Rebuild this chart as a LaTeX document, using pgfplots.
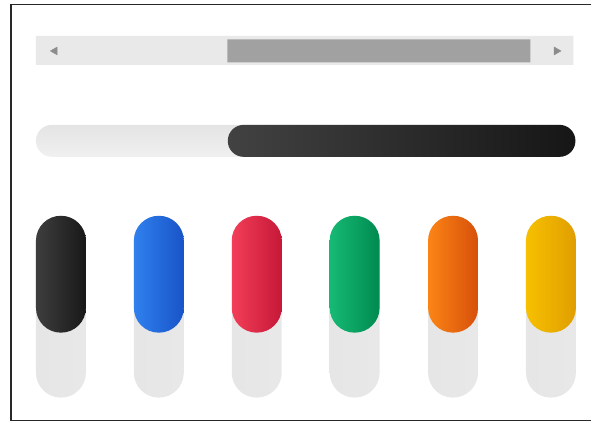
\documentclass[border=0pt]{standalone}
\usepackage{pgfplots}
\pgfplotsset{compat=1.18}
\definecolor{frame}{RGB}{40,40,40}
\definecolor{trackbg}{RGB}{233,233,233}
\definecolor{thumb}{RGB}{161,161,161}
\definecolor{arrow}{RGB}{140,140,140}
\definecolor{gL}{RGB}{230,230,230}
\definecolor{gM}{RGB}{248,248,248}
\definecolor{gR}{RGB}{232,232,232}
\definecolor{sT}{RGB}{228,228,228}
\definecolor{sM}{RGB}{245,245,245}
\definecolor{sB}{RGB}{240,240,240}
\definecolor{dL}{RGB}{66,66,66}
\definecolor{dR}{RGB}{22,22,22}
\definecolor{kL}{RGB}{62,62,62}
\definecolor{kR}{RGB}{24,24,24}
\definecolor{bL}{RGB}{48,128,238}
\definecolor{bR}{RGB}{24,84,200}
\definecolor{rL}{RGB}{242,62,88}
\definecolor{rR}{RGB}{198,24,56}
\definecolor{nL}{RGB}{22,186,116}
\definecolor{nR}{RGB}{0,138,80}
\definecolor{oL}{RGB}{252,132,22}
\definecolor{oR}{RGB}{214,80,10}
\definecolor{yL}{RGB}{246,192,0}
\definecolor{yR}{RGB}{224,158,0}
\begin{document}
\begin{tikzpicture}
\begin{axis}[
  scale only axis, width=592bp, height=423bp,
  xmin=0, xmax=592, ymin=0, ymax=423, y dir=reverse,
  axis lines=box, axis line style={draw=none}, ticks=none,
  clip=false,
]
% outer frame (open on the right)
\addplot[frame, line width=1.2bp, mark=none] coordinates {(592,4.5) (11,4.5) (11,421) (592,421)};
% scrollbar track and thumb
\addplot[draw=none, fill=trackbg] coordinates {(36,36) (574,36) (574,65) (36,65) (36,36)};
\addplot[draw=none, fill=thumb] coordinates {(227.5,39.5) (531,39.5) (531,62.5) (227.5,62.5) (227.5,39.5)};
% scrollbar arrows
\addplot[only marks, mark=triangle*, mark size=4.6pt, color=arrow, mark options={rotate=90}] coordinates {(55,51)};
\addplot[only marks, mark=triangle*, mark size=4.6pt, color=arrow, mark options={rotate=-90}] coordinates {(557,51)};
% horizontal slider
\addplot[draw=none, rounded corners=15.9bp, top color=sT, middle color=sM, bottom color=sB] coordinates {(306,125) (576,125) (576,157) (36,157) (36,125) (306,125)};
\addplot[draw=none, rounded corners=15.9bp, left color=dL, right color=dR] coordinates {(402,125) (576,125) (576,157) (228,157) (228,125) (402,125)};
% vertical sliders: grey tracks
\addplot[draw=none, rounded corners=24.9bp, left color=gL, middle color=gM, right color=gR] coordinates {(36,307) (36,216) (86,216) (86,398) (36,398) (36,307)};
\addplot[draw=none, rounded corners=24.9bp, left color=gL, middle color=gM, right color=gR] coordinates {(134,307) (134,216) (184,216) (184,398) (134,398) (134,307)};
\addplot[draw=none, rounded corners=24.9bp, left color=gL, middle color=gM, right color=gR] coordinates {(232,307) (232,216) (282,216) (282,398) (232,398) (232,307)};
\addplot[draw=none, rounded corners=24.9bp, left color=gL, middle color=gM, right color=gR] coordinates {(330,307) (330,216) (380,216) (380,398) (330,398) (330,307)};
\addplot[draw=none, rounded corners=24.9bp, left color=gL, middle color=gM, right color=gR] coordinates {(428.5,307) (428.5,216) (478.5,216) (478.5,398) (428.5,398) (428.5,307)};
\addplot[draw=none, rounded corners=24.9bp, left color=gL, middle color=gM, right color=gR] coordinates {(526.5,307) (526.5,216) (576.5,216) (576.5,398) (526.5,398) (526.5,307)};
% vertical sliders: coloured levels
\addplot[draw=none, rounded corners=24.9bp, left color=kL, right color=kR] coordinates {(36,274.5) (36,216) (86,216) (86,333) (36,333) (36,274.5)};
\addplot[draw=none, rounded corners=24.9bp, left color=bL, right color=bR] coordinates {(134,274.5) (134,216) (184,216) (184,333) (134,333) (134,274.5)};
\addplot[draw=none, rounded corners=24.9bp, left color=rL, right color=rR] coordinates {(232,274.5) (232,216) (282,216) (282,333) (232,333) (232,274.5)};
\addplot[draw=none, rounded corners=24.9bp, left color=nL, right color=nR] coordinates {(330,274.5) (330,216) (380,216) (380,333) (330,333) (330,274.5)};
\addplot[draw=none, rounded corners=24.9bp, left color=oL, right color=oR] coordinates {(428.5,274.5) (428.5,216) (478.5,216) (478.5,333) (428.5,333) (428.5,274.5)};
\addplot[draw=none, rounded corners=24.9bp, left color=yL, right color=yR] coordinates {(526.5,274.5) (526.5,216) (576.5,216) (576.5,333) (526.5,333) (526.5,274.5)};
\end{axis}
\end{tikzpicture}
\end{document}
